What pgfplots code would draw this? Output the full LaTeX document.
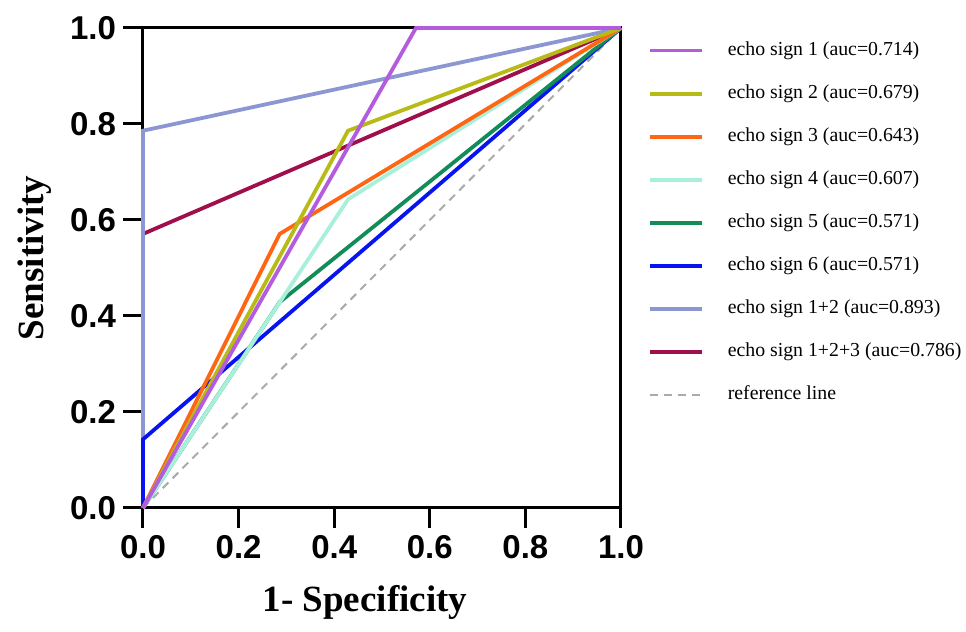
\documentclass[border=0pt]{standalone}
\usepackage{fontspec}
\setmainfont{Liberation Serif}
\setsansfont{Liberation Sans}
\usepackage{pgfplots}
\pgfplotsset{compat=1.18}
\definecolor{cOne}{RGB}{180,92,222}
\definecolor{cTwo}{RGB}{184,186,22}
\definecolor{cThree}{RGB}{255,102,20}
\definecolor{cFour}{RGB}{168,240,220}
\definecolor{cFive}{RGB}{20,140,90}
\definecolor{cSix}{RGB}{8,20,240}
\definecolor{cOneTwo}{RGB}{140,150,210}
\definecolor{cOneTwoThree}{RGB}{160,15,75}
\definecolor{cRef}{RGB}{170,170,170}
\begin{document}
\begin{tikzpicture}
\useasboundingbox (-71.5pt,-62pt) rectangle (411.5pt,254pt);
\begin{axis}[
  scale only axis, width=239pt, height=240pt,
  xmin=0, xmax=1, ymin=0, ymax=1,
  xtick={0,0.2,0.4,0.6,0.8,1}, ytick={0,0.2,0.4,0.6,0.8,1},
  /pgf/number format/.cd, fixed, fixed zerofill, precision=1, assume math mode=true, /pgfplots/.cd,
  tick label style={font=\sffamily\bfseries\fontsize{16.5}{16.5}\selectfont},
  tick align=outside, major tick length=10pt, xtick pos=bottom, ytick pos=left,
  every tick/.style={black, line width=1.5pt},
  axis line style={line width=1.5pt},
  clip=false,
  xlabel={1- Specificity}, ylabel={Sensitivity},
  label style={font=\bfseries\fontsize{18.5}{18.5}\selectfont},
  xlabel style={at={(axis description cs:0.4644,-0.2146)}, anchor=base},
  ylabel style={at={(axis description cs:-0.2092,0.5208)}, anchor=base},
  reverse legend,
  legend cell align=left,
  legend style={at={(axis description cs:1,1)}, anchor=north west, xshift=13.5pt, yshift=-6.5pt,
    draw=none, fill=none, inner sep=0pt, outer sep=0pt, row sep=12.05pt,
    font=\fontsize{9.9}{9.9}\selectfont,
    nodes={inner sep=0pt, text height=7pt, text depth=2.5pt},
    /tikz/every odd column/.append style={column sep=12pt}},
  legend image code/.code={\draw[#1] (0pt,0pt) -- (26pt,0pt);},
]
\addplot[cRef, line width=1pt, dash pattern=on 4pt off 3pt] coordinates {(0,0) (1,1)};
\addlegendentry{reference line}
\addplot[cOneTwoThree, line width=1.9pt] coordinates {(0,0) (0,0.571) (1,1)};
\addlegendentry{echo sign 1+2+3 (auc=0.786)}
\addplot[cOneTwo, line width=1.9pt] coordinates {(0,0) (0,0.786) (1,1)};
\addlegendentry{echo sign 1+2 (auc=0.893)}
\addplot[cSix, line width=1.9pt] coordinates {(0,0) (0,0.143) (1,1)};
\addlegendentry{echo sign 6 (auc=0.571)}
\addplot[cFive, line width=1.9pt] coordinates {(0,0) (0.286,0.429) (1,1)};
\addlegendentry{echo sign 5 (auc=0.571)}
\addplot[cFour, line width=1.9pt] coordinates {(0,0) (0.429,0.643) (1,1)};
\addlegendentry{echo sign 4 (auc=0.607)}
\addplot[cThree, line width=1.9pt] coordinates {(0,0) (0.286,0.571) (1,1)};
\addlegendentry{echo sign 3 (auc=0.643)}
\addplot[cTwo, line width=1.9pt] coordinates {(0,0) (0.429,0.786) (1,1)};
\addlegendentry{echo sign 2 (auc=0.679)}
\addplot[cOne, line width=1.9pt] coordinates {(0,0) (0.571,1) (1,1)};
\addlegendentry{echo sign 1 (auc=0.714)}
\end{axis}
\end{tikzpicture}
\end{document}
